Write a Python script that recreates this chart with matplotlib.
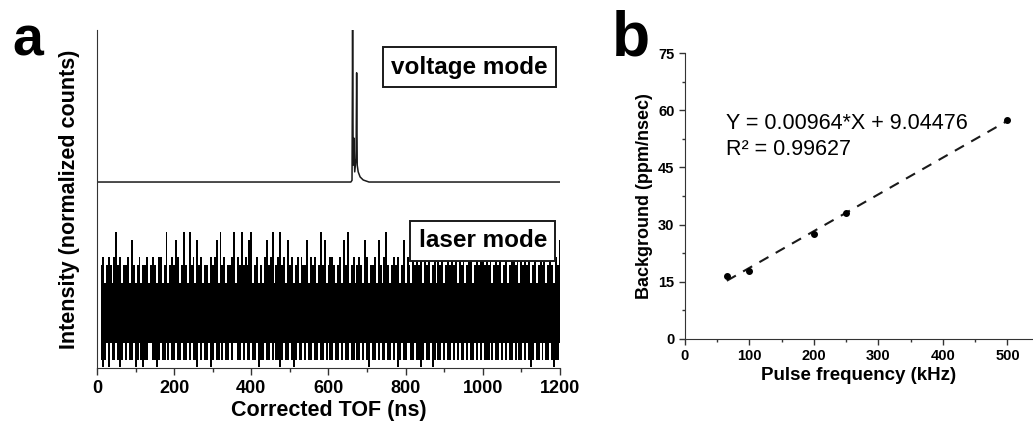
import numpy as np
import matplotlib
matplotlib.use("Agg")
import matplotlib.pyplot as plt
from matplotlib.ticker import MultipleLocator

plt.rcParams['font.family'] = ['Liberation Sans', 'DejaVu Sans']
INK = '#1a1a1a'

# panel a: voltage mode trace (normalized counts, arbitrary offset units)
volt_x = [0, 658, 661, 662.5, 664, 666, 668, 671.5, 673, 674.5, 677, 682, 690, 705, 1200]
volt_y = [55, 55, 55.5, 100, 60, 68, 58, 62, 87.3, 60, 58, 56.5, 55.6, 55, 55]

# panel a: laser mode trace, 5 ns bins from 10 ns
# upper edge level codes and lower edge level codes
laser_top_levels = [25.1, 30.5, 32.8, 37.9, 40.2]
laser_bot_levels = [7.4, 2.4, 0.3]
laser_top_codes = (
    "1201210241201120310120112012102201401213"
    "2014104120312011021230412011240214121340"
    "1201023124012412031201202113021201413012"
    "2101203140120121032011203102410121201302"
    "1021213041201203120121412031201320121241"
    "2120131201201341202131201201412012102130"
)
laser_bot_codes = (
    "1210201101210101102101211001121011010110"
    "1101101011201011021011010110100110101101"
    "1021101101011210110121011010110110110101"
    "1011010110110110101201101011011010210110"
    "0110112101102101101011010101101011010101"
    "1101011010101101011010121011010110121101"
)
laser_start = 10
laser_step = 5
laser_core = (7.4, 25.1)

# panel b: background vs pulse frequency
freq = [65, 100, 200, 250, 500]
background = [16.5, 17.8, 27.6, 33.1, 57.5]

fig = plt.figure(figsize=(10.33, 4.21), dpi=100)

# ---------------- panel a ----------------
ax1 = fig.add_axes([0.094, 0.126, 0.448, 0.803])
ax1.plot(volt_x, volt_y, color=INK, lw=1.1)

lx = laser_start + laser_step * np.arange(len(laser_top_codes))
hi = np.array([laser_top_levels[int(c)] for c in laser_top_codes])
lo = np.array([laser_bot_levels[int(c)] for c in laser_bot_codes])
keep = lx <= 1200
lx, hi, lo = lx[keep], hi[keep], lo[keep]
ax1.fill_between([laser_start, 1200], laser_core[0], laser_core[1], color='black', lw=0)
ax1.fill_between(lx, laser_core[1] - 0.5, hi, step='mid', color='black', lw=0)
ax1.fill_between(lx, lo, laser_core[0] + 0.5, step='mid', color='black', lw=0)

ax1.set_xlim(0, 1200)
ax1.set_ylim(0, 100)
ax1.spines['top'].set_visible(False)
ax1.spines['right'].set_visible(False)
for s in ['left', 'bottom']:
    ax1.spines[s].set_color('#333333')
ax1.set_yticks([])
ax1.xaxis.set_major_locator(MultipleLocator(200))
ax1.xaxis.set_minor_locator(MultipleLocator(100))
ax1.tick_params(axis='x', which='major', length=5, width=1, labelsize=13, color='#333333')
ax1.tick_params(axis='x', which='minor', length=3, width=1, color='#333333')
for lab in ax1.get_xticklabels():
    lab.set_fontweight('bold')
ax1.set_xlabel("Corrected TOF (ns)", fontsize=15.5, fontweight='bold', labelpad=2)
ax1.set_ylabel("Intensity (normalized counts)", fontsize=15.5, fontweight='bold', labelpad=12)

box = dict(boxstyle='square,pad=0.35', facecolor='white', edgecolor=INK, lw=1.4)
ax1.text(966, 89, "voltage mode", fontsize=17.5, fontweight='bold', ha='center', va='center', bbox=box, zorder=5)
ax1.text(1000, 37.6, "laser mode", fontsize=17.5, fontweight='bold', ha='center', va='center', bbox=box, zorder=5)

# ---------------- panel b ----------------
ax2 = fig.add_axes([0.663, 0.195, 0.336, 0.679])
slope, icept = np.polyfit(freq, background, 1)
fx = np.array([min(freq), max(freq)])
ax2.plot(fx, slope * fx + icept, color=INK, lw=1.5, ls=(0, (5, 4)))
ax2.plot(freq, background, 'o', color='black', ms=4)

ax2.set_xlim(0, 538)
ax2.set_ylim(0, 75)
ax2.spines['top'].set_visible(False)
ax2.spines['right'].set_visible(False)
for s in ['left', 'bottom']:
    ax2.spines[s].set_color('#333333')
ax2.xaxis.set_major_locator(MultipleLocator(100))
ax2.xaxis.set_minor_locator(MultipleLocator(50))
ax2.yaxis.set_major_locator(MultipleLocator(15))
ax2.yaxis.set_minor_locator(MultipleLocator(7.5))
ax2.tick_params(which='major', length=4, width=1, labelsize=10.5, color='#333333')
ax2.tick_params(which='minor', length=2.5, width=1, color='#333333')
for lab in ax2.get_xticklabels() + ax2.get_yticklabels():
    lab.set_fontweight('bold')
ax2.set_xlabel("Pulse frequency (kHz)", fontsize=13.5, fontweight='bold', labelpad=3)
ax2.set_ylabel("Background (ppm/nsec)", fontsize=13, fontweight='bold', labelpad=4)
ax2.text(63, 56.6, "Y = 0.00964*X + 9.04476", fontsize=15.5, va='center')
ax2.text(63, 49.6, "R² = 0.99627", fontsize=15.5, va='center')

fig.text(0.012, 0.869, "a", fontsize=40, fontweight='bold', va='baseline')
fig.text(0.592, 0.869, "b", fontsize=45, fontweight='bold', va='baseline')

fig.savefig("out.png", dpi=100)
